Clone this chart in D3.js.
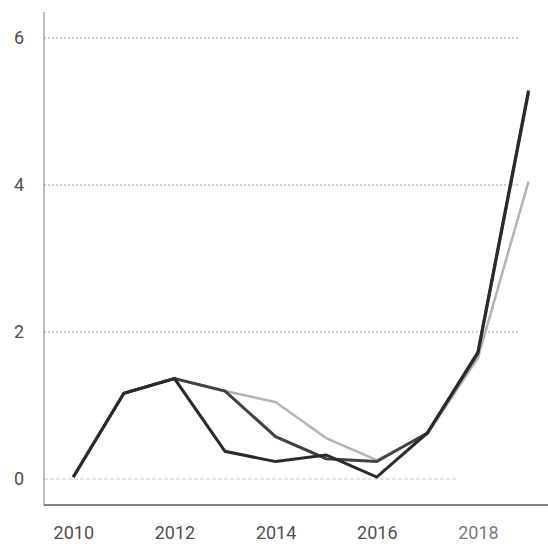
<!DOCTYPE html>
<html>
<head>
<meta charset="utf-8">
<script src="https://cdn.jsdelivr.net/npm/d3@7"></script>
<style>
  body { margin: 0; background: #fff; }
  text { font-family: Roboto, "Noto Sans", sans-serif; }
</style>
</head>
<body>
<svg id="chart" width="548" height="544"></svg>
<script>
// values
let years = [2010, 2011, 2012, 2013, 2014, 2015, 2016, 2017, 2018, 2019];
let seriesA = [0.02, 1.16, 1.36, 0.37, 0.23, 0.32, 0.02, 0.62, 1.72, 5.28];
let seriesB = [0.02, 1.16, 1.36, 1.19, 0.57, 0.27, 0.23, 0.62, 1.70, 5.25];
let seriesC = [0.02, 1.16, 1.36, 1.19, 1.04, 0.55, 0.25, 0.60, 1.64, 4.04];
let yTicks = [0, 2, 4, 6];
let xTicks = [2010, 2012, 2014, 2016, 2018];

let svg = d3.select('#chart');

let x = d3.scaleLinear()
          .domain([2010, 2019])
          .range([73.3, 528.5]);
let y = d3.scaleLinear()
          .domain([0, 6])
          .range([478.5, 37.5]);

let axisX = 44;
let axisY = 505;

// gridlines + y labels
let yAxis = svg.append('g')
    .attr('transform', 'translate(' + axisX + ',0)')
    .call(d3.axisLeft(y)
        .tickValues(yTicks)
        .tickFormat(d3.format('d'))
        .tickSize(0)
        .tickPadding(20));
yAxis.select('.domain').remove();
yAxis.selectAll('.tick text')
    .attr('font-size', 18)
    .attr('fill', '#4f4f4f');
yAxis.selectAll('.tick')
    .append('line')
    .attr('x1', 0)
    .attr('x2', (d) => d === 0 ? 412 : 476)
    .attr('stroke', (d) => d === 0 ? '#c8c8c8' : '#9a9a9a')
    .attr('stroke-width', 1)
    .attr('stroke-dasharray', (d) => d === 0 ? '4,2' : '2,2');

// x labels
let xAxis = svg.append('g')
    .attr('transform', 'translate(0,' + axisY + ')')
    .call(d3.axisBottom(x)
        .tickValues(xTicks)
        .tickFormat(d3.format('d'))
        .tickSize(0)
        .tickPadding(21));
xAxis.select('.domain').remove();
xAxis.selectAll('.tick text')
    .attr('font-size', 18)
    .attr('fill', (d) => d === 2018 ? '#7a7a7a' : '#4f4f4f');

// axis lines
svg.append('line')
    .attr('x1', axisX).attr('x2', axisX)
    .attr('y1', 12).attr('y2', axisY + 1)
    .attr('stroke', '#7a7a7a')
    .attr('stroke-width', 1);
svg.append('line')
    .attr('x1', axisX).attr('x2', 548)
    .attr('y1', axisY).attr('y2', axisY)
    .attr('stroke', '#5a5a5a')
    .attr('stroke-width', 1.5);

let line = d3.line()
    .x((d, i) => x(years[i]))
    .y((d) => y(d));

svg.append('path')
    .attr('d', line(seriesC))
    .attr('fill', 'none')
    .attr('stroke', '#b4b4b4')
    .attr('stroke-width', 2.5);

svg.append('path')
    .attr('d', line(seriesB))
    .attr('fill', 'none')
    .attr('stroke', '#424242')
    .attr('stroke-width', 3);

svg.append('path')
    .attr('d', line(seriesA))
    .attr('fill', 'none')
    .attr('stroke', '#2a2a2a')
    .attr('stroke-width', 3);
</script>
</body>
</html>
